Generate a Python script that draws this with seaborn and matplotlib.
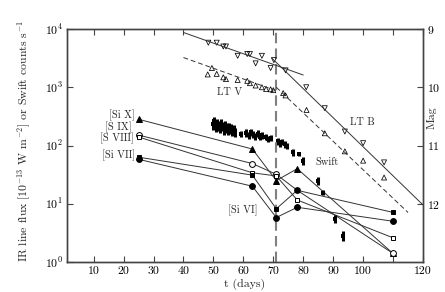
import numpy as np
import pandas as pd
import matplotlib
matplotlib.use('Agg')
import matplotlib.pyplot as plt
import seaborn as sns
from matplotlib.ticker import LogLocator, LogFormatterSciNotation, FixedLocator, NullLocator, FixedFormatter

# ---------------- data ----------------
ir_t = [25, 63, 71, 78, 110]
si_x = [282, 87, 25, 40, 1.4]
s_ix = [151, 49, 32, 17, 1.4]
s_viii = [140, 34, 30, 11.6, 2.6]
si_vii = [63, 31, 8.2, 17, 7.1]
si_vi = [58, 20, 5.8, 8.7, 5.0]

swift_t = [49.8, 50.3, 50.8, 51.2, 51.7, 52.1, 52.6, 53.0, 53.5, 54.0, 54.4, 54.9,
           55.3, 55.8, 56.3, 56.8, 57.3, 59.2, 61.0, 61.8, 62.5, 63.3, 64.0, 64.8,
           65.5, 66.3, 67.5, 68.3, 69.2, 71.5, 72.3, 73.0, 73.8, 74.5, 76.6, 78.6,
           80.0, 85.0, 86.6, 90.6, 93.2]
swift_rate = [230, 260, 210, 245, 220, 200, 235, 215, 190, 225, 205, 185,
              210, 195, 175, 190, 170, 160, 165, 150, 170, 155, 145, 160,
              140, 150, 140, 130, 135, 120, 110, 115, 105, 100, 77, 72,
              55, 25, 15.5, 5.5, 2.85]
swift_err = [45, 50, 40, 45, 42, 38, 45, 40, 36, 42, 38, 35,
             38, 35, 32, 34, 30, 20, 25, 22, 24, 22, 20, 22,
             18, 20, 16, 15, 15, 16, 14, 14, 13, 12, 10, 6,
             8, 4, 1.6, 0.9, 0.6]

ltv_t = [48.1, 49.5, 51.1, 53.3, 54.2, 58.1, 61.3, 62.2, 64.1, 66.2, 67.6, 69.1,
         70.0, 73.3, 74.1, 81.1, 87.2, 93.9, 100.0, 107.0]
ltv_mag = [9.78, 9.67, 9.77, 9.83, 9.86, 9.875, 9.89, 9.93, 9.97, 10.0, 10.03, 10.035,
           10.05, 10.10, 10.14, 10.39, 10.79, 11.1, 11.26, 11.55]

ltb_t = [48.3, 51.1, 53.3, 54.2, 58.1, 61.3, 62.2, 64.1, 66.2, 69.1, 70.2, 74.1,
         81.0, 87.2, 93.9, 100.0, 107.0]
ltb_mag = [9.235, 9.235, 9.30, 9.30, 9.46, 9.43, 9.43, 9.59, 9.46, 9.67, 9.535, 9.71,
           10.0, 10.36, 10.76, 10.96, 11.29]

ltb_fit1_t = [40, 80]
ltb_fit1_mag = [9.06, 9.79]
ltb_fit2_t = [69.5, 120]
ltb_fit2_mag = [9.50, 12.02]
ltv_fit1_t = [40, 71]
ltv_fit1_mag = [9.49, 10.06]
ltv_fit2_t = [71, 115]
ltv_fit2_mag = [10.0, 12.15]

epoch_t = 71
x_ticks = [10, 20, 30, 40, 50, 60, 70, 80, 90, 100, 110, 120]
x_tick_labels = ['10', '20', '30', '40', '50', '60', '70', '80', '90', '100', '', '120']
mag_ticks = [9, 10, 11, 12]

# ---------------- style ----------------
sns.set_theme(style='white')
plt.rcParams.update({
    'font.family': 'serif',
    'font.serif': ['cmr10', 'DejaVu Serif'],
    'mathtext.fontset': 'cm',
    'axes.formatter.use_mathtext': True,
    'axes.unicode_minus': False,
    'font.size': 8.5,
    'axes.edgecolor': '#444444',
    'axes.linewidth': 1.0,
    'xtick.color': '#444444',
    'ytick.color': '#444444',
    'xtick.labelcolor': 'black',
    'ytick.labelcolor': 'black',
})

fig = plt.figure(figsize=(4.45, 2.92), dpi=100)
ax = fig.add_axes([67/445, 1-262/292, 356/445, 233/292])

ax.set_yscale('log')
ax.set_xlim(1.1, 120)
ax.set_ylim(1, 1e4)

line_col = '#333333'
series = [
    (si_x, '^', 'black', 3.8),
    (s_ix, 'o', 'white', 4.2),
    (s_viii, 's', 'white', 3.4),
    (si_vii, 's', 'black', 3.4),
    (si_vi, 'o', 'black', 4.2),
]
for vals, m, fc, ms in series:
    sns.lineplot(x=ir_t, y=vals, ax=ax, color=line_col, lw=0.7, marker=m,
                 markersize=ms, markerfacecolor=fc, markeredgecolor='black',
                 markeredgewidth=0.7, legend=False)

# Swift
sw = pd.DataFrame({'t': swift_t, 'r': swift_rate, 'e': swift_err})
ax.vlines(sw['t'], sw['r'] - sw['e'], sw['r'] + sw['e'], color='black', lw=2.2)
sns.scatterplot(data=sw, x='t', y='r', ax=ax, color='black', marker='s', s=5,
                edgecolor='black', linewidth=0, legend=False)

ax.axvline(epoch_t, color='#808080', lw=1.5, ls=(0, (5, 2.5)), zorder=1)

# labels of lines
fs_lab = 7.5
ax.text(23.9, 325, '[Si X]', ha='right', va='center', fontsize=fs_lab)
ax.text(22.8, 206, '[S IX]', ha='right', va='center', fontsize=fs_lab)
ax.text(23.3, 131, '[S VIII]', ha='right', va='center', fontsize=fs_lab)
ax.text(23.7, 68, '[Si VII]', ha='right', va='center', fontsize=fs_lab)
ax.text(59.9, 7.6, '[Si VI]', ha='center', va='center', fontsize=fs_lab)
ax.text(55.4, 828, 'LT V', ha='center', va='center', fontsize=fs_lab)
ax.text(99.7, 246, 'LT B', ha='center', va='center', fontsize=fs_lab)
ax.text(87.9, 50.7, 'Swift', ha='center', va='center', fontsize=fs_lab)

ax.xaxis.set_major_locator(FixedLocator(x_ticks))
ax.xaxis.set_major_formatter(FixedFormatter(x_tick_labels))
ax.yaxis.set_major_locator(LogLocator(base=10, numticks=10))
ax.yaxis.set_major_formatter(LogFormatterSciNotation())
ax.yaxis.set_minor_locator(NullLocator())
ax.tick_params(axis='x', which='major', direction='in', top=True, bottom=True,
               length=4, width=0.8, labelsize=8.5, pad=3)
ax.tick_params(axis='y', which='major', direction='in', left=True, right=False,
               length=4, width=0.8, labelsize=8.5, pad=3)
ax.set_xlabel('t (days)', fontsize=8.5, labelpad=2)
ax.set_ylabel(r'IR line flux [10$^{-13}$ W m$^{-2}$] or Swift counts s$^{-1}$',
              fontsize=8.5)
ax.yaxis.set_label_coords(-0.095, 0.52)

# right magnitude axis
ax2 = ax.twinx()
ax2.set_ylim(13, 9)
ax2.set_xlim(ax.get_xlim())
sns.scatterplot(x=ltv_t, y=ltv_mag, ax=ax2, marker='^', s=13, facecolor='none',
                edgecolor='black', linewidth=0.55, legend=False)
sns.scatterplot(x=ltb_t, y=ltb_mag, ax=ax2, marker='v', s=13, facecolor='none',
                edgecolor='black', linewidth=0.55, legend=False)
ax2.plot(ltb_fit1_t, ltb_fit1_mag, color='#333333', lw=0.7)
ax2.plot(ltb_fit2_t, ltb_fit2_mag, color='#333333', lw=0.7)
ax2.plot(ltv_fit1_t, ltv_fit1_mag, color='#333333', lw=0.7, ls=(0, (5, 3)))
ax2.plot(ltv_fit2_t, ltv_fit2_mag, color='#333333', lw=0.7, ls=(0, (5, 3)))
ax2.yaxis.set_major_locator(FixedLocator(mag_ticks))
ax2.yaxis.set_minor_locator(NullLocator())
ax2.tick_params(axis='y', direction='in', right=True, length=4, width=0.8,
                labelsize=8.5, pad=3)
ax2.set_ylabel('Mag', fontsize=8.5, rotation=90)
ax2.yaxis.set_label_coords(1.01, 0.62)
for s in ax2.spines.values():
    s.set_color('#444444')

fig.savefig('out.png', dpi=100)
